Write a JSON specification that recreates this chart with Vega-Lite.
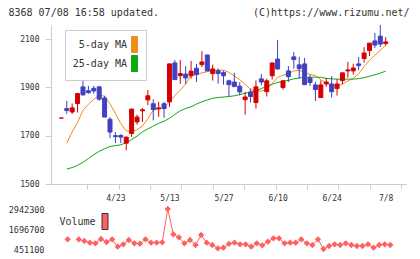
{
  "$schema": "https://vega.github.io/schema/vega-lite/v6.json",
  "background": "white",
  "padding": {"left": 8, "top": 7, "right": 0, "bottom": 0},
  "spacing": 3,
  "config": {
    "view": {"stroke": null},
    "font": "DejaVu Sans Mono",
    "axis": {"grid": false, "labelOverlap": false, "domainColor": "#cccccc", "tickColor": "#cccccc", "labelColor": "#333333", "titleColor": "#333333", "titleFontWeight": "normal", "titleFontSize": 10, "labelFontSize": 8}
  },
  "resolve": {"scale": {"color": "independent"}, "legend": {"color": "independent"}},
  "datasets": {
    "prices": [
      {"i": 0, "o": 1773, "h": 1773, "l": 1773, "c": 1773, "ma5": null, "ma25": null, "vol": null},
      {"i": 1, "o": 1812, "h": 1844, "l": 1790, "c": 1804, "ma5": 1668, "ma25": 1562, "vol": null},
      {"i": 2, "o": 1798, "h": 1833, "l": 1790, "c": 1815, "ma5": 1716, "ma25": 1568, "vol": 1055000},
      {"i": 3, "o": 1833, "h": 1877, "l": 1796, "c": 1874, "ma5": 1755, "ma25": 1577, "vol": null},
      {"i": 4, "o": 1902, "h": 1927, "l": 1865, "c": 1869, "ma5": 1805, "ma25": 1590, "vol": 1055000},
      {"i": 5, "o": 1886, "h": 1906, "l": 1873, "c": 1878, "ma5": 1830, "ma25": 1605, "vol": 949000},
      {"i": 6, "o": 1896, "h": 1906, "l": 1873, "c": 1885, "ma5": 1850, "ma25": 1622, "vol": 843000},
      {"i": 7, "o": 1902, "h": 1906, "l": 1845, "c": 1851, "ma5": 1868, "ma25": 1635, "vol": 806000},
      {"i": 8, "o": 1856, "h": 1865, "l": 1777, "c": 1777, "ma5": 1863, "ma25": 1646, "vol": 1074000},
      {"i": 9, "o": 1768, "h": 1777, "l": 1690, "c": 1715, "ma5": 1832, "ma25": 1655, "vol": 887000},
      {"i": 10, "o": 1700, "h": 1715, "l": 1669, "c": 1696, "ma5": 1792, "ma25": 1659, "vol": 1055000},
      {"i": 11, "o": 1701, "h": 1706, "l": 1669, "c": 1694, "ma5": 1750, "ma25": 1662, "vol": 594000},
      {"i": 12, "o": 1669, "h": 1696, "l": 1639, "c": 1694, "ma5": 1720, "ma25": 1671, "vol": 744000},
      {"i": 13, "o": 1709, "h": 1812, "l": 1695, "c": 1810, "ma5": 1716, "ma25": 1684, "vol": 1012000},
      {"i": 14, "o": 1757, "h": 1787, "l": 1746, "c": 1777, "ma5": 1725, "ma25": 1698, "vol": 806000},
      {"i": 15, "o": 1803, "h": 1815, "l": 1757, "c": 1807, "ma5": 1740, "ma25": 1716, "vol": 781000},
      {"i": 16, "o": 1848, "h": 1889, "l": 1826, "c": 1865, "ma5": 1770, "ma25": 1728, "vol": 1055000},
      {"i": 17, "o": 1832, "h": 1851, "l": 1763, "c": 1808, "ma5": 1805, "ma25": 1740, "vol": 843000},
      {"i": 18, "o": 1811, "h": 1840, "l": 1778, "c": 1815, "ma5": 1812, "ma25": 1751, "vol": 843000},
      {"i": 19, "o": 1832, "h": 1840, "l": 1774, "c": 1812, "ma5": 1818, "ma25": 1760, "vol": 868000},
      {"i": 20, "o": 1840, "h": 1997, "l": 1819, "c": 1997, "ma5": 1840, "ma25": 1772, "vol": 2942300},
      {"i": 21, "o": 2001, "h": 2013, "l": 1932, "c": 1932, "ma5": 1866, "ma25": 1788, "vol": 1367000},
      {"i": 22, "o": 1948, "h": 2013, "l": 1914, "c": 1957, "ma5": 1888, "ma25": 1803, "vol": 1180000},
      {"i": 23, "o": 1955, "h": 1988, "l": 1914, "c": 1939, "ma5": 1915, "ma25": 1813, "vol": 806000},
      {"i": 24, "o": 1948, "h": 2009, "l": 1936, "c": 1967, "ma5": 1948, "ma25": 1819, "vol": 1012000},
      {"i": 25, "o": 1979, "h": 1997, "l": 1922, "c": 1953, "ma5": 1953, "ma25": 1831, "vol": 700000},
      {"i": 26, "o": 1994, "h": 2050, "l": 1984, "c": 2005, "ma5": 1960, "ma25": 1840, "vol": 1323000},
      {"i": 27, "o": 2034, "h": 2034, "l": 1968, "c": 1968, "ma5": 1965, "ma25": 1848, "vol": 843000},
      {"i": 28, "o": 1957, "h": 1994, "l": 1928, "c": 1976, "ma5": 1970, "ma25": 1855, "vol": 700000},
      {"i": 29, "o": 1969, "h": 1979, "l": 1915, "c": 1957, "ma5": 1971, "ma25": 1858, "vol": 495000},
      {"i": 30, "o": 1961, "h": 1969, "l": 1911, "c": 1948, "ma5": 1971, "ma25": 1860, "vol": 532000},
      {"i": 31, "o": 1927, "h": 1932, "l": 1863, "c": 1911, "ma5": 1962, "ma25": 1862, "vol": 775000},
      {"i": 32, "o": 1922, "h": 1960, "l": 1903, "c": 1903, "ma5": 1947, "ma25": 1865, "vol": 843000},
      {"i": 33, "o": 1905, "h": 1922, "l": 1867, "c": 1881, "ma5": 1932, "ma25": 1870, "vol": 744000},
      {"i": 34, "o": 1849, "h": 1881, "l": 1787, "c": 1860, "ma5": 1912, "ma25": 1876, "vol": 744000},
      {"i": 35, "o": 1881, "h": 1895, "l": 1837, "c": 1862, "ma5": 1892, "ma25": 1879, "vol": 594000},
      {"i": 36, "o": 1837, "h": 1929, "l": 1812, "c": 1902, "ma5": 1884, "ma25": 1885, "vol": 806000},
      {"i": 37, "o": 1935, "h": 1955, "l": 1909, "c": 1922, "ma5": 1885, "ma25": 1895, "vol": 682000},
      {"i": 38, "o": 1882, "h": 1936, "l": 1862, "c": 1927, "ma5": 1891, "ma25": 1904, "vol": 905000},
      {"i": 39, "o": 1948, "h": 2001, "l": 1932, "c": 2001, "ma5": 1916, "ma25": 1913, "vol": 1117000},
      {"i": 40, "o": 2017, "h": 2096, "l": 1973, "c": 1976, "ma5": 1941, "ma25": 1920, "vol": 1117000},
      {"i": 41, "o": 1899, "h": 1927, "l": 1891, "c": 1927, "ma5": 1950, "ma25": 1925, "vol": 806000},
      {"i": 42, "o": 1968, "h": 1988, "l": 1922, "c": 1944, "ma5": 1956, "ma25": 1929, "vol": 843000},
      {"i": 43, "o": 2026, "h": 2046, "l": 1977, "c": 2015, "ma5": 1968, "ma25": 1935, "vol": 843000},
      {"i": 44, "o": 1993, "h": 2026, "l": 1936, "c": 1977, "ma5": 1970, "ma25": 1939, "vol": 1055000},
      {"i": 45, "o": 1997, "h": 2022, "l": 1911, "c": 1911, "ma5": 1963, "ma25": 1941, "vol": 806000},
      {"i": 46, "o": 1939, "h": 1953, "l": 1906, "c": 1920, "ma5": 1954, "ma25": 1942, "vol": 700000},
      {"i": 47, "o": 1910, "h": 1922, "l": 1844, "c": 1891, "ma5": 1948, "ma25": 1942, "vol": 1055000},
      {"i": 48, "o": 1858, "h": 1929, "l": 1858, "c": 1910, "ma5": 1932, "ma25": 1942, "vol": 451100},
      {"i": 49, "o": 1914, "h": 1939, "l": 1902, "c": 1922, "ma5": 1918, "ma25": 1937, "vol": 638000},
      {"i": 50, "o": 1914, "h": 1947, "l": 1858, "c": 1882, "ma5": 1907, "ma25": 1935, "vol": 744000},
      {"i": 51, "o": 1895, "h": 1934, "l": 1866, "c": 1914, "ma5": 1904, "ma25": 1934, "vol": 700000},
      {"i": 52, "o": 1928, "h": 1960, "l": 1913, "c": 1960, "ma5": 1914, "ma25": 1934, "vol": 806000},
      {"i": 53, "o": 1968, "h": 2005, "l": 1940, "c": 1972, "ma5": 1926, "ma25": 1934, "vol": 700000},
      {"i": 54, "o": 1968, "h": 1998, "l": 1953, "c": 1980, "ma5": 1938, "ma25": 1934, "vol": 638000},
      {"i": 55, "o": 1997, "h": 2026, "l": 1971, "c": 1990, "ma5": 1956, "ma25": 1936, "vol": 638000},
      {"i": 56, "o": 2019, "h": 2066, "l": 2002, "c": 2042, "ma5": 1986, "ma25": 1940, "vol": 744000},
      {"i": 57, "o": 2052, "h": 2083, "l": 2029, "c": 2083, "ma5": 2012, "ma25": 1946, "vol": 532000},
      {"i": 58, "o": 2092, "h": 2125, "l": 2063, "c": 2075, "ma5": 2033, "ma25": 1952, "vol": 700000},
      {"i": 59, "o": 2112, "h": 2158, "l": 2067, "c": 2079, "ma5": 2053, "ma25": 1959, "vol": 744000},
      {"i": 60, "o": 2081, "h": 2108, "l": 2072, "c": 2088, "ma5": 2074, "ma25": 1967, "vol": 700000}
    ]
  },
  "vconcat": [
    {
      "width": 355,
      "height": 159,
      "data": {"name": "prices"},
      "resolve": {"axis": {"x": "independent", "y": "shared"}},
      "layer": [
        {
          "transform": [{"fold": ["ma5", "ma25"], "as": ["series", "ma"]}],
          "mark": {"type": "line", "strokeWidth": 1},
          "encoding": {
            "x": {
              "field": "i", "type": "quantitative",
              "scale": {"domain": [-0.99, 62.83], "nice": false, "zero": false},
              "axis": {"orient": "top", "domain": false, "ticks": false, "labels": false,
                       "title": "(C)https://www.rizumu.net/", "titleAngle": 0, "titleX": 358, "titleY": -13,
                       "titleAlign": "right", "titleBaseline": "middle"}
            },
            "y": {
              "field": "ma", "type": "quantitative",
              "scale": {"domain": [1500, 2158], "nice": false, "zero": false},
              "axis": {"values": [1500, 1700, 1900, 2100], "format": "d", "tickCount": 20, "tickSize": 6, "labelPadding": 6,
                       "title": "8368 07/08 16:58 updated.", "titleAngle": 0, "titleX": -43, "titleY": -13,
                       "titleAlign": "left", "titleBaseline": "middle"}
            },
            "color": {
              "field": "series", "type": "nominal",
              "scale": {"domain": ["ma5", "ma25"], "range": ["#f08c1c", "#10a810"]},
              "legend": {
                "title": null, "orient": "none", "legendX": 14, "legendY": 5, "direction": "vertical",
                "symbolType": "M-0.375,-1H0.375V1H-0.375Z", "symbolSize": 256,
                "symbolOffset": 55, "labelOffset": -16, "labelAlign": "right",
                "labelFontSize": 10, "labelColor": "#333333",
                "padding": 6, "rowPadding": -4, "strokeColor": "#cccccc", "fillColor": "white",
                "labelExpr": "datum.label == 'ma5' ? '5-day MA' : '25-day MA'",
                "encode": {"symbols": {"update": {
                  "fill": {"signal": "datum.value == 'ma5' ? '#f08c1c' : '#10a810'"},
                  "fillOpacity": {"value": 1},
                  "stroke": {"value": "#333333"},
                  "strokeWidth": {"value": 1}
                }}}
              }
            }
          }
        },
        {
          "mark": {"type": "rule", "strokeWidth": 1},
          "encoding": {
            "x": {
              "field": "i", "type": "quantitative",
              "axis": {"orient": "bottom", "values": [4.81, 10.61, 16.41, 22.21, 28.02, 33.82, 39.62, 45.42, 51.22, 57.03, 62.82],
                       "tickCount": 40, "labels": false, "tickSize": 5, "title": null}
            },
            "y": {"field": "l", "type": "quantitative"},
            "y2": {"field": "h"},
            "color": {"condition": {"test": "datum.c >= datum.o", "value": "#d40000"}, "value": "#4040c0"}
          }
        },
        {
          "mark": {"type": "bar", "width": 4, "strokeWidth": 1},
          "encoding": {
            "x": {
              "field": "i", "type": "quantitative",
              "axis": {"orient": "bottom", "values": [10, 20, 30, 40, 50, 60], "tickCount": 20, "domain": false, "ticks": false,
                       "labelPadding": 10, "labelFlush": false, "title": null,
                       "labelExpr": "['4/23','5/13','5/27','6/10','6/24','7/8'][datum.value / 10 - 1]"}
            },
            "y": {"field": "o", "type": "quantitative"},
            "y2": {"field": "c"},
            "color": {"condition": {"test": "datum.c >= datum.o", "value": "#d40000"}, "value": "#4040c0"},
            "stroke": {"condition": {"test": "datum.c >= datum.o", "value": "#d40000"}, "value": "#4040c0"}
          }
        }
      ]
    },
    {
      "width": 355,
      "height": 40,
      "data": {"name": "prices"},
      "layer": [
        {
          "mark": {"type": "line", "color": "#ff6060", "strokeWidth": 1},
          "encoding": {
            "x": {"field": "i", "type": "quantitative", "scale": {"domain": [-0.99, 62.83], "nice": false, "zero": false}, "axis": null},
            "y": {
              "field": "vol", "type": "quantitative",
              "scale": {"domain": [451100, 2942300], "nice": false, "zero": false},
              "axis": {"values": [451100, 1696700, 2942300], "tickCount": 10, "format": "d", "domain": false, "ticks": false,
                       "labelPadding": 7, "labelFontSize": 8.5, "title": null}
            }
          }
        },
        {
          "mark": {"type": "point", "shape": "diamond", "filled": true, "size": 40, "opacity": 1},
          "encoding": {
            "x": {"field": "i", "type": "quantitative"},
            "y": {"field": "vol", "type": "quantitative"},
            "color": {
              "datum": "Volume",
              "scale": {"range": ["#ff6060"]},
              "legend": {
                "title": null, "orient": "none", "legendX": 7.5, "legendY": 4,
                "symbolType": "M-0.375,-1H0.375V1H-0.375Z", "symbolSize": 256,
                "symbolStrokeColor": "#333333", "symbolStrokeWidth": 1,
                "symbolOffset": 38, "labelOffset": -18, "labelAlign": "right",
                "labelFontSize": 10, "labelColor": "#333333", "padding": 0
              }
            }
          }
        }
      ]
    }
  ]
}
